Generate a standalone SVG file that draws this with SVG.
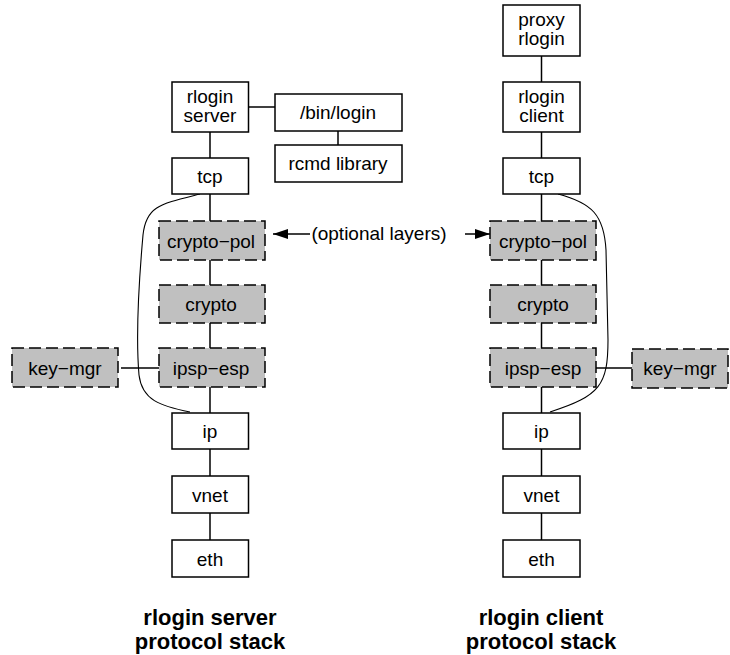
<svg xmlns="http://www.w3.org/2000/svg" width="730" height="655" viewBox="0 0 730 655">
<style>
.box{fill:#fff;stroke:#000;stroke-width:1.5}
.opt{fill:#c0c0c0;stroke:#000;stroke-width:1.5;stroke-dasharray:12 5}
.lbl{font-family:"Liberation Sans",Arial,sans-serif;font-size:19px;text-anchor:middle;fill:#000}
.cap{font-family:"Liberation Sans",Arial,sans-serif;font-size:22px;font-weight:bold;text-anchor:middle;fill:#000}
.ln{stroke:#000;stroke-width:1.5;fill:none}
.crv{stroke:#000;stroke-width:1.1;fill:none}
</style>
<defs>
<marker id="ah" markerWidth="15" markerHeight="10" refX="15" refY="5" orient="auto" markerUnits="userSpaceOnUse">
<path d="M0,0 L15,5 L0,10 Z" fill="#000"/>
</marker>
</defs>
<g id="connectors">
<line class="ln" x1="210" y1="132" x2="210" y2="158"/>
<line class="ln" x1="210" y1="194" x2="210" y2="221"/>
<line class="ln" x1="210" y1="260" x2="210" y2="285"/>
<line class="ln" x1="210" y1="323" x2="210" y2="348"/>
<line class="ln" x1="210" y1="387" x2="210" y2="413"/>
<line class="ln" x1="210" y1="449" x2="210" y2="476"/>
<line class="ln" x1="210" y1="513" x2="210" y2="540"/>
<line class="ln" x1="248.5" y1="107" x2="275" y2="107"/>
<line class="ln" x1="338" y1="131" x2="338" y2="145"/>
<line class="ln" x1="121" y1="368" x2="159" y2="368"/>
<line class="ln" x1="541.5" y1="56" x2="541.5" y2="82"/>
<line class="ln" x1="541.5" y1="132" x2="541.5" y2="158"/>
<line class="ln" x1="541.5" y1="194" x2="541.5" y2="221"/>
<line class="ln" x1="541.5" y1="260" x2="541.5" y2="285"/>
<line class="ln" x1="541.5" y1="323" x2="541.5" y2="348"/>
<line class="ln" x1="541.5" y1="387" x2="541.5" y2="413"/>
<line class="ln" x1="541.5" y1="449" x2="541.5" y2="476"/>
<line class="ln" x1="541.5" y1="513" x2="541.5" y2="540"/>
<line class="ln" x1="596" y1="368" x2="632" y2="368"/>
<path class="crv" d="M200,194 C160,204 146,206 143,235 C139,280 136,340 139,375 C142,400 160,406 190,412"/>
<path class="crv" d="M558,194 C592,203 604,215 606,250 L608,340 C608,385 600,396 550,412"/>
<line class="ln" x1="310" y1="234" x2="273" y2="234" marker-end="url(#ah)"/>
<line class="ln" x1="465" y1="234" x2="490" y2="234" marker-end="url(#ah)"/>
</g>
<g id="l-rlogin-server"><rect class="box" x="172" y="82" width="76.5" height="50"/><text class="lbl" x="210" y="102.5">rlogin</text><text class="lbl" x="210" y="121.5">server</text></g>
<g id="bin-login"><rect class="box" x="275" y="94" width="127" height="37"/><text class="lbl" x="338" y="119">/bin/login</text></g>
<g id="rcmd-library"><rect class="box" x="275" y="145" width="127" height="37"/><text class="lbl" x="338" y="170">rcmd library</text></g>
<g id="l-tcp"><rect class="box" x="172" y="158" width="76.5" height="36"/><text class="lbl" x="210" y="183">tcp</text></g>
<g id="l-crypto-pol"><rect class="opt" x="159" y="221" width="106" height="39"/><text class="lbl" x="211" y="247.5">crypto−pol</text></g>
<g id="l-crypto"><rect class="opt" x="159" y="285" width="106" height="38"/><text class="lbl" x="211" y="311">crypto</text></g>
<g id="l-ipsp-esp"><rect class="opt" x="159" y="348" width="106" height="39"/><text class="lbl" x="211" y="374.5">ipsp−esp</text></g>
<g id="l-key-mgr"><rect class="opt" x="12" y="348" width="106" height="39"/><text class="lbl" x="65" y="374.5">key−mgr</text></g>
<g id="l-ip"><rect class="box" x="172" y="413" width="76.5" height="36"/><text class="lbl" x="210" y="438">ip</text></g>
<g id="l-vnet"><rect class="box" x="172" y="476" width="76.5" height="37"/><text class="lbl" x="210" y="501.5">vnet</text></g>
<g id="l-eth"><rect class="box" x="172" y="540" width="76.5" height="37"/><text class="lbl" x="210" y="565.5">eth</text></g>
<g id="r-proxy-rlogin"><rect class="box" x="503" y="5" width="77" height="51"/><text class="lbl" x="541.5" y="26">proxy</text><text class="lbl" x="541.5" y="45">rlogin</text></g>
<g id="r-rlogin-client"><rect class="box" x="503" y="82" width="77" height="50"/><text class="lbl" x="541.5" y="102.5">rlogin</text><text class="lbl" x="541.5" y="121.5">client</text></g>
<g id="r-tcp"><rect class="box" x="503" y="158" width="77" height="36"/><text class="lbl" x="541.5" y="183">tcp</text></g>
<g id="r-crypto-pol"><rect class="opt" x="490" y="221" width="106" height="39"/><text class="lbl" x="543" y="247.5">crypto−pol</text></g>
<g id="r-crypto"><rect class="opt" x="490" y="285" width="106" height="38"/><text class="lbl" x="543" y="311">crypto</text></g>
<g id="r-ipsp-esp"><rect class="opt" x="490" y="348" width="106" height="39"/><text class="lbl" x="543" y="374.5">ipsp−esp</text></g>
<g id="r-key-mgr"><rect class="opt" x="632" y="349" width="96" height="39"/><text class="lbl" x="680" y="375">key−mgr</text></g>
<g id="r-ip"><rect class="box" x="503" y="413" width="77" height="36"/><text class="lbl" x="541.5" y="438">ip</text></g>
<g id="r-vnet"><rect class="box" x="503" y="476" width="77" height="37"/><text class="lbl" x="541.5" y="501.5">vnet</text></g>
<g id="r-eth"><rect class="box" x="503" y="540" width="77" height="37"/><text class="lbl" x="541.5" y="565.5">eth</text></g>
<g id="optional-label"><text class="lbl" x="379" y="240">(optional layers)</text></g>
<g id="captions">
<text class="cap" x="210" y="625">rlogin server</text>
<text class="cap" x="210" y="649">protocol stack</text>
<text class="cap" x="541" y="625">rlogin client</text>
<text class="cap" x="541" y="649">protocol stack</text>
</g>
</svg>
